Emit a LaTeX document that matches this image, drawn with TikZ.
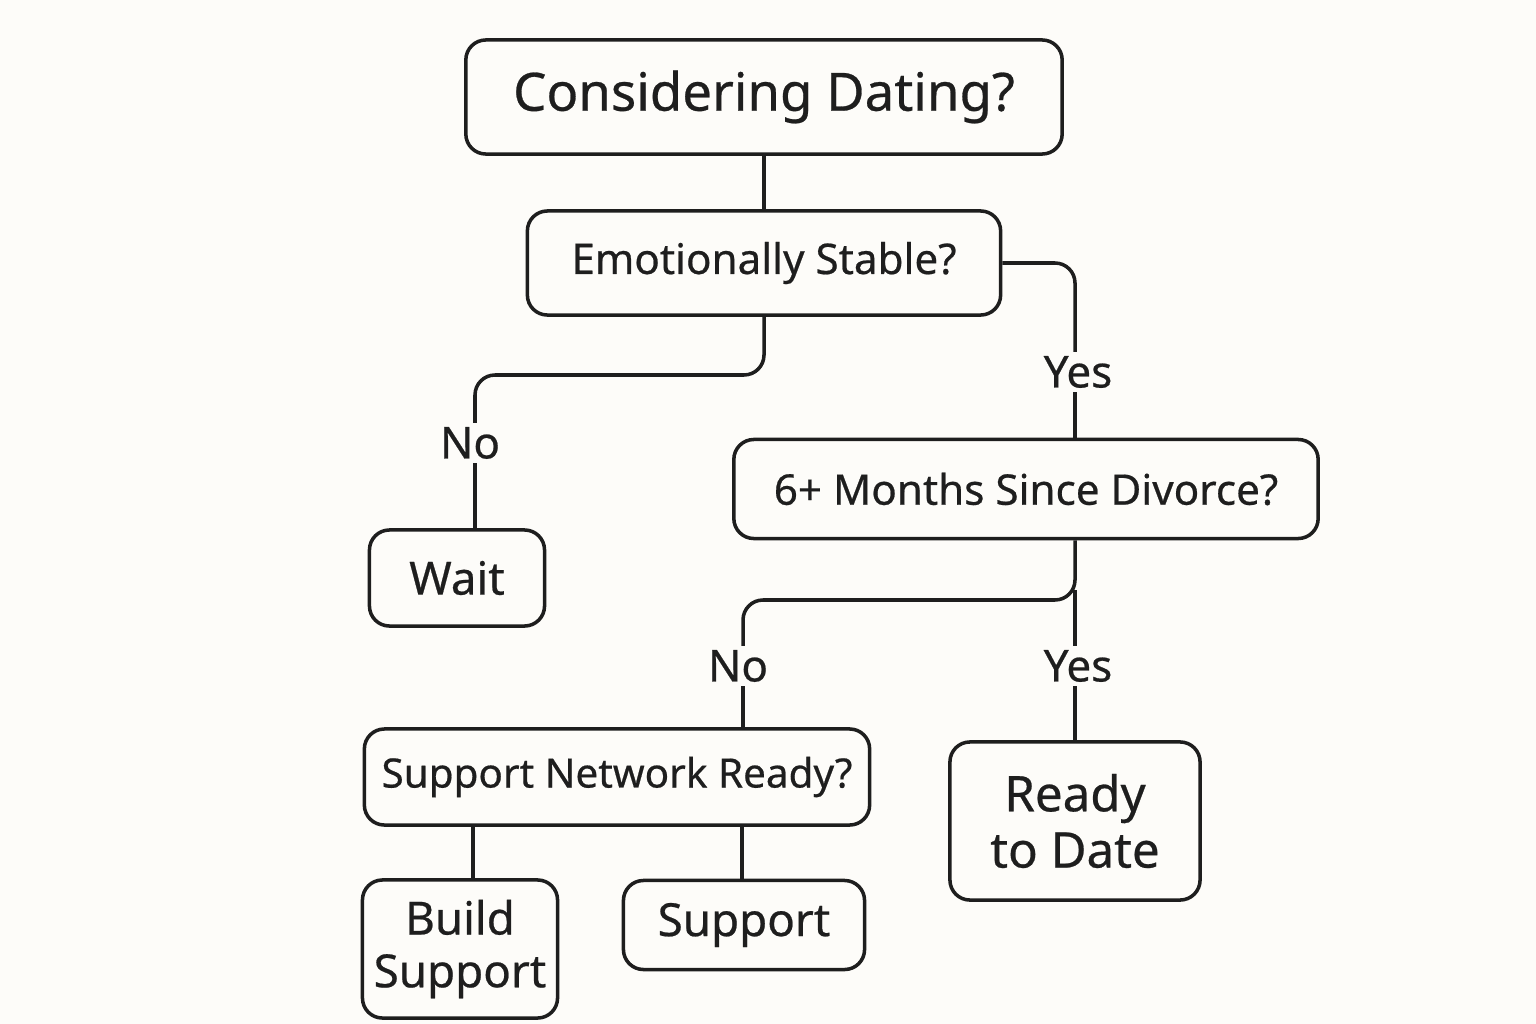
\documentclass[tikz,border=0pt]{standalone}
\usepackage{fontspec}
\setmainfont{Noto Sans}[UprightFeatures={FakeBold=0.5}]
\usetikzlibrary{positioning}
\definecolor{ink}{HTML}{1E1E1E}
\definecolor{paper}{HTML}{FDFCF9}
\tikzset{
  box/.style={draw=ink,line width=1pt,rounded corners=0.2cm,align=center,text=ink,inner sep=0pt,font=\fontsize{12}{15}\selectfont},
  lab/.style={text=ink,font=\fontsize{12.5}{14}\selectfont,inner sep=1pt},
  wire/.style={draw=ink,line width=1pt,rounded corners=0.2cm}
}
\begin{document}
\begin{tikzpicture}[x=0.01cm,y=-0.01cm]
  \fill[paper] (0,0) rectangle (1536,1024); %背景
  \useasboundingbox (0,0) rectangle (1536,1024);

  % 箱
  \node[box,minimum width=5.96cm,minimum height=1.14cm,font=\fontsize{15}{18}\selectfont] (start) at (764,97) {Considering Dating?};
  \node[box,minimum width=4.73cm,minimum height=1.04cm] (stable) at (764,263) {Emotionally Stable?};
  \node[box,minimum width=5.84cm,minimum height=0.99cm] (months) at (1026,489) {6+ Months Since Divorce?};
  \node[box,minimum width=1.75cm,minimum height=0.96cm,font=\fontsize{13}{15}\selectfont] (wait) at (457,578) {Wait};
  \node[box,minimum width=5.05cm,minimum height=0.96cm,font=\fontsize{11.5}{14}\selectfont] (network) at (617,777) {Support Network Ready?};
  \node[box,minimum width=2.5cm,minimum height=1.58cm,font=\fontsize{14}{16}\selectfont] (ready) at (1075,821) {Ready\\to Date};
  \node[box,minimum width=1.95cm,minimum height=1.38cm,font=\fontsize{13}{15}\selectfont] (build) at (460,949) {Build\\Support};
  \node[box,minimum width=2.41cm,minimum height=0.89cm,font=\fontsize{13}{15}\selectfont] (support) at (744,925) {Support};

  % ラベル
  \node[lab] (no1) at (470,443) {No};
  \node[lab] (yes1) at (1078,372) {Yes};
  \node[lab] (no2) at (738,666) {No};
  \node[lab] (yes2) at (1078,666) {Yes};

  % 線
  \draw[wire] (start) -- (stable);
  \draw[wire] (stable.south) -- (764,375) -- (475,375) -- (no1.north -| 475,0);
  \draw[wire] (no1.south -| 475,0) -- (wait.north -| 475,0);
  \draw[wire] (stable.east) -- (1075,263) -- (yes1.north -| 1075,0);
  \draw[wire] (yes1.south -| 1075,0) -- (months.north -| 1075,0);
  \draw[wire] (months.south -| 1075,0) -- (1075,600) -- (743,600) -- (no2.north -| 743,0);
  \draw[wire] (1075,590) -- (yes2.north -| 1075,0);
  \draw[wire] (no2.south -| 743,0) -- (network.north -| 743,0);
  \draw[wire] (yes2.south -| 1075,0) -- (ready.north -| 1075,0);
  \draw[wire] (network.south -| 473,0) -- (build.north -| 473,0);
  \draw[wire] (network.south -| 742,0) -- (support.north -| 742,0);
\end{tikzpicture}
\end{document}
